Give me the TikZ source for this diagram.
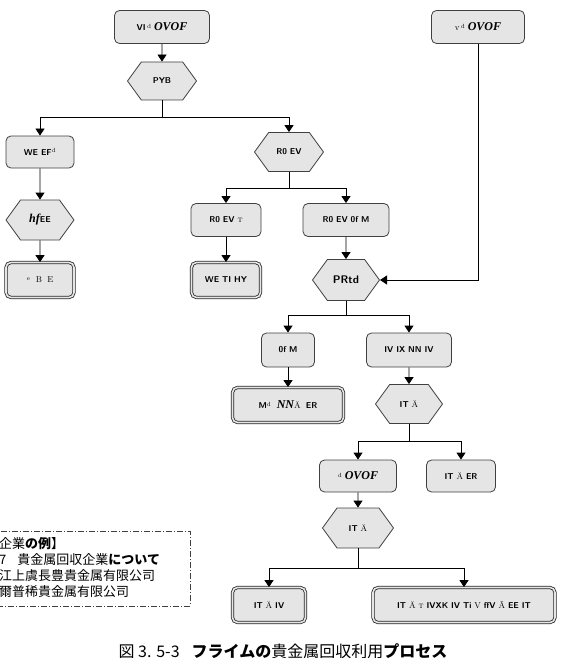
\documentclass[tikz,border=0pt]{standalone}
\usepackage{fontspec}
\newfontfamily\jp{Noto Sans CJK JP}
\newfontfamily\lser{Liberation Serif}
\usetikzlibrary{arrows.meta,shapes.symbols,calc}
\newcommand\gb[1]{{\sffamily\bfseries #1}}
\newcommand\ov{{\lser\bfseries\itshape\fontsize{12}{13}\selectfont OVOF}}
\tikzset{
  box/.style={draw=black!75, fill=black!10, rounded corners=5pt, line width=0.8pt,
    inner sep=2pt, font=\fontsize{8.5}{9}\selectfont},
  dbox/.style={box, draw=black!85, double=black!10, double distance=1.6pt, line width=0.8pt},
  hexa/.style={shape=signal, signal to=east and west, signal pointer angle=108,
    draw=black!75, fill=black!10, line width=0.8pt, inner sep=1pt,
    font=\fontsize{8.5}{9}\selectfont},
  arr/.style={-{Triangle[width=9pt,length=7pt]}, line width=0.8pt},
  conn/.style={line width=0.8pt},
  legend/.style={anchor=west, inner sep=0pt, font=\jp\fontsize{13}{14}\selectfont}
}
\begin{document}
\begin{tikzpicture}[x=1pt,y=-1pt]
\useasboundingbox (0,0) rectangle (565,658);
% nodes
\node[box, minimum width=95pt, minimum height=33pt] (A) at (162,27) {\gb{VI}\,\textsuperscript{d}\;\ov};
\node[box, minimum width=93pt, minimum height=33pt] (B) at (478,27) {v\,\textsuperscript{d}\;\ov};
\node[hexa, minimum width=69pt, minimum height=38pt] (C) at (162,81) {\gb{PYB}};
\node[box, minimum width=68pt, minimum height=32pt] (D) at (40,152) {\gb{WE} \gb{EF}\textsuperscript{d}};
\node[hexa, minimum width=68pt, minimum height=40pt] (F) at (40,220) {{\lser\bfseries\itshape\fontsize{12}{13}\selectfont hf}\gb{EE}};
\node[dbox, minimum width=68pt, minimum height=35pt] (G) at (40,280) {\textsuperscript{e}\; B\; E};
\node[hexa, minimum width=69pt, minimum height=39pt] (E) at (289,152) {\gb{R0} \gb{EV}};
\node[box, minimum width=70pt, minimum height=33pt] (H) at (226,220) {\gb{R0} \gb{EV} \textsc{t}};
\node[box, minimum width=86pt, minimum height=33pt] (I) at (346,220) {\gb{R0} \gb{EV} \gb{0f} \gb{M}};
\node[dbox, minimum width=69pt, minimum height=35pt] (J) at (226,280) {\gb{WE} \gb{TI} \gb{HY}};
\node[hexa, minimum width=67pt, minimum height=41pt] (K) at (346,280) {\gb{\fontsize{11}{12}\selectfont PRtd}};
\node[box, minimum width=53pt, minimum height=34pt] (L) at (288,350) {\gb{0f} \gb{M}};
\node[box, minimum width=85pt, minimum height=34pt] (M) at (409,350) {\gb{IV} \gb{IX} \gb{NN} \gb{IV}};
\node[dbox, minimum width=111pt, minimum height=35pt] (N) at (288,405) {\gb{M}\textsuperscript{d}\; {\lser\bfseries\itshape\fontsize{12}{13}\selectfont NN}Ä\; \gb{ER}};
\node[hexa, minimum width=67pt, minimum height=39pt] (O) at (409,404) {\gb{IT} Ä};
\node[box, minimum width=77pt, minimum height=32pt] (P) at (358,476) {\textsuperscript{d}\;\ov};
\node[box, minimum width=69pt, minimum height=32pt] (Q) at (461,476) {\gb{IT} Ä \gb{ER}};
\node[hexa, minimum width=71pt, minimum height=40pt] (R) at (358,528) {\gb{IT} Ä};
\node[dbox, minimum width=73pt, minimum height=35pt] (S) at (269,605) {\gb{IT} Ä \gb{IV}};
\node[dbox, minimum width=182pt, minimum height=35pt] (T) at (464,605) {\gb{IT} Ä \textsc{t} \gb{IVXK} \gb{IV} \gb{Ti} V \gb{ffV} Ã \gb{EE} \gb{IT}};
% junctions
\coordinate (j1) at (162,117);
\coordinate (j2) at (289,188);
\coordinate (j3) at (346,315);
\coordinate (j4) at (409,441);
\coordinate (j5) at (358,568);
% connectors
\draw[arr] (A) -- (C);
\draw[conn] (C.south) -- (j1);
\draw[arr] (j1) -| (D.north);
\draw[arr] (j1) -| (E.north);
\draw[arr] (D) -- (F);
\draw[arr] (F) -- (G);
\draw[conn] (E.south) -- (j2);
\draw[arr] (j2) -| (H.north);
\draw[arr] (j2) -| (I.north);
\draw[arr] (H) -- (J);
\draw[arr] (I) -- (K);
\draw[arr] (B.south) |- (K.east);
\draw[conn] (K.south) -- (j3);
\draw[arr] (j3) -| (L.north);
\draw[arr] (j3) -| (M.north);
\draw[arr] (L) -- (N);
\draw[arr] (M) -- (O);
\draw[conn] (O.south) -- (j4);
\draw[arr] (j4) -| (P.north);
\draw[arr] (j4) -| (Q.north);
\draw[arr] (P) -- (R);
\draw[conn] (R.south) -- (j5);
\draw[arr] (j5) -| (S.north);
\draw[arr] (j5) -| (T.north);
% legend
\draw[black!75, line width=0.8pt, dash pattern=on 6pt off 2pt on 1pt off 2pt] (-5,531) rectangle (190,606);
\node[legend] (l1) at (-1,544) {企業\textbf{の例}】};
\node[legend] (l2) at (-1,560) {7\hspace{11pt}貴金属回収企業\textbf{について}};
\node[legend] (l3) at (-1,576) {江上虞長豊貴金属有限公司};
\node[legend] (l4) at (-1,592) {爾普稀貴金属有限公司};
% caption
\node[font=\jp\fontsize{16}{17}\selectfont, inner sep=0pt] (cap) at (283,651) {図 3. 5-3\hspace{12pt}\textbf{フライムの}貴金属回収利用\textbf{プロセス}};
\end{tikzpicture}
\end{document}
